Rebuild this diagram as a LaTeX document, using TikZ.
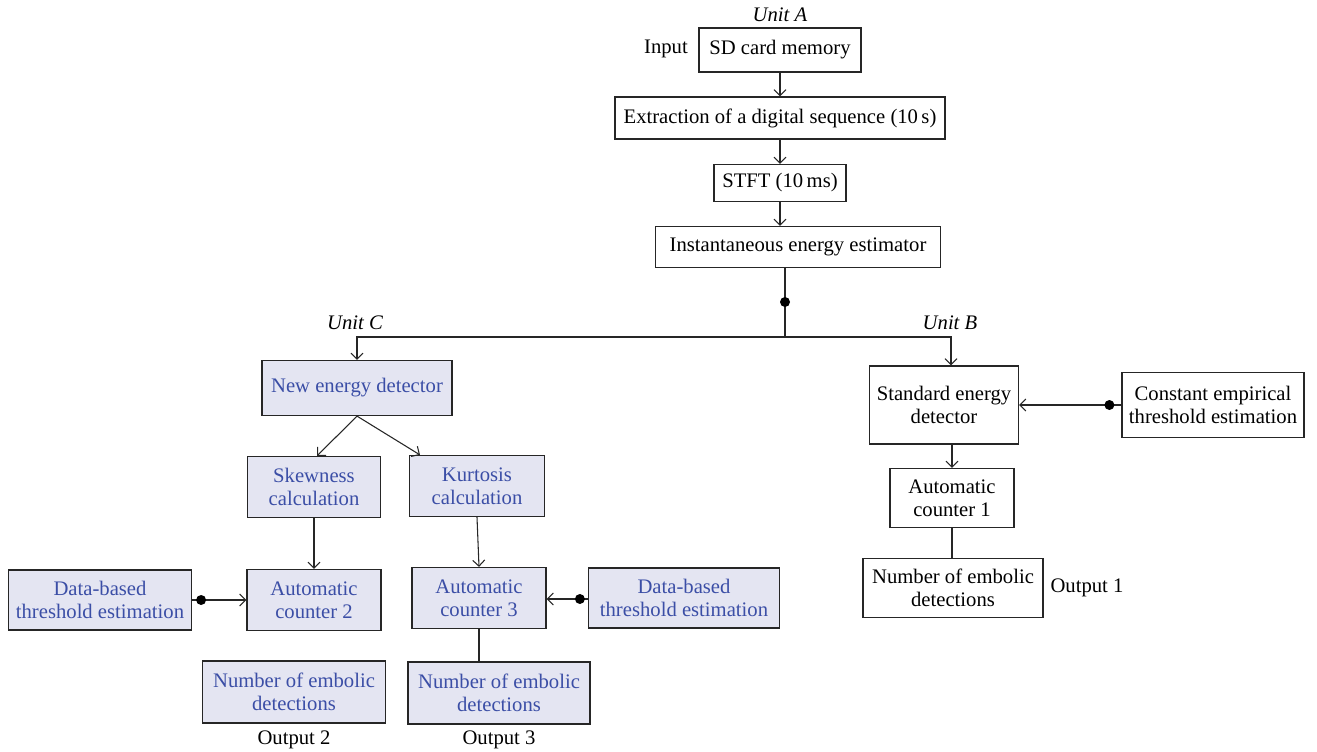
\documentclass[tikz,border=0pt]{standalone}
\usepackage{fontspec}
\setmainfont{Liberation Serif}
\usetikzlibrary{arrows.meta}
\definecolor{boxfill}{HTML}{E4E5F2}
\definecolor{bluetext}{HTML}{3B4EA6}
\definecolor{linec}{HTML}{262626}
\def\px{0.75pt}
\begin{document}
\begin{tikzpicture}[x=0.75pt,y=-0.75pt,
  txt/.style={font=\fontsize{15.5}{17.3}\selectfont},
  box/.style={txt, draw=linec, line width=0.9pt, inner sep=0pt, align=center},
  cbox/.style={box, fill=boxfill, text=bluetext},
  lbl/.style={txt, inner sep=0pt},
  ilbl/.style={lbl, font=\fontsize{15.5}{17.3}\selectfont\itshape},
  arr/.style={draw=linec, line width=0.8pt, -{Straight Barb[length=4.5pt,width=9pt]}},
  ln/.style={draw=linec, line width=0.8pt},
  dotn/.style={circle, fill=black, inner sep=0pt, minimum size=7.5pt}]
\useasboundingbox (0,0) rectangle (1317,752);

% Unit A
\node[ilbl] (unitA) at (780,15) {Unit A};
\node[lbl] (input) at (666,49) {Input};
\node[box, minimum width=162*\px, minimum height=44*\px] (sd) at (780,50) {SD card memory};
\node[box, minimum width=330*\px, minimum height=42*\px] (ext) at (780,118) {Extraction of a digital sequence (10\,s)};
\node[box, minimum width=132*\px, minimum height=37*\px] (stft) at (780,183) {STFT (10\,ms)};
\node[box, minimum width=285*\px, minimum height=41*\px] (inst) at (798,247) {Instantaneous energy estimator};

\draw[arr] (sd.south) -- (ext.north);
\draw[arr] (ext.south) -- (stft.north);
\draw[arr] (stft.south) -- (stft.south |- inst.north);

\coordinate (branch) at (785,337);
\draw[draw=linec, line width=1.6pt] (inst.south -| branch) -- (branch);
\node[dotn] (bdot) at (785,302) {};

% Unit labels
\node[ilbl] (unitC) at (355,323) {Unit C};
\node[ilbl] (unitB) at (950,323) {Unit B};

% Unit B
\node[box, minimum width=149*\px, minimum height=78*\px] (sed) at (944,405) {Standard energy\\detector};
\node[box, minimum width=182*\px, minimum height=65*\px] (cet) at (1213,405) {Constant empirical\\threshold estimation};
\node[box, minimum width=124*\px, minimum height=59*\px] (ac1) at (952,498) {Automatic\\counter 1};
\node[box, minimum width=180*\px, minimum height=59*\px] (ne1) at (953,588) {Number of embolic\\detections};
\node[lbl] (out1) at (1087,588) {Output 1};

\draw[arr] (branch) -| ([xshift=7*\px]sed.north);
\draw[arr] (cet.west) -- (cet.west -| sed.east);
\node[dotn] (cdot) at ([xshift=-12*\px]cet.west) {};
\draw[arr] (sed.south -| ac1.north) -- (ac1.north);
\draw[ln] (ac1.south) -- (ac1.south |- ne1.north);

% Unit C
\node[cbox, minimum width=190*\px, minimum height=55*\px] (ned) at (357,388) {New energy detector};
\node[cbox, minimum width=133*\px, minimum height=61*\px] (skew) at (314,487) {Skewness\\calculation};
\node[cbox, minimum width=135*\px, minimum height=61*\px] (kurt) at (477,486) {Kurtosis\\calculation};
\node[cbox, minimum width=134*\px, minimum height=61*\px] (ac2) at (314,600) {Automatic\\counter 2};
\node[cbox, minimum width=183*\px, minimum height=60*\px] (dbt1) at (100,600) {Data-based\\threshold estimation};
\node[cbox, minimum width=134*\px, minimum height=61*\px] (ac3) at (479,598) {Automatic\\counter 3};
\node[cbox, minimum width=191*\px, minimum height=60*\px] (dbt2) at (684,598) {Data-based\\threshold estimation};
\node[cbox, minimum width=183*\px, minimum height=62*\px] (ne2) at (294,692) {Number of embolic\\detections};
\node[cbox, minimum width=182*\px, minimum height=62*\px] (ne3) at (499,693) {Number of embolic\\detections};
\node[lbl] (out2) at (294,740) {Output 2};
\node[lbl] (out3) at (499,740) {Output 3};

\draw[arr] (branch) -| (ned.north);
\draw[arr] (ned.south) -- ([xshift=3*\px]skew.north);
\draw[arr] (ned.south) -- ([xshift=-57*\px]kurt.north);
\draw[arr] (skew.south) -- (skew.south |- ac2.north);
\draw[arr] (kurt.south) -- (ac3.north);
\draw[arr] (dbt1.east) -- (ac2.west);
\node[dotn] (d1dot) at ([xshift=9*\px]dbt1.east) {};
\draw[arr] ([yshift=-1*\px]dbt2.west) -- ([yshift=-1*\px]ac3.east);
\node[dotn] (d2dot) at ([xshift=-8*\px,yshift=-1*\px]dbt2.west) {};
\draw[ln] (ac3.south) -- (ac3.south |- ne3.north);
\end{tikzpicture}
\end{document}
